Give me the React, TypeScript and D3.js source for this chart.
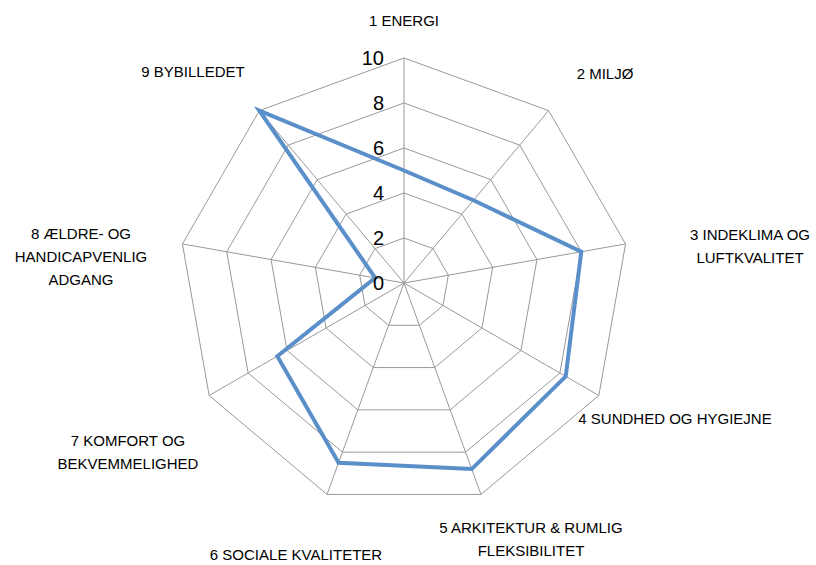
import React from 'react';
import * as d3 from 'd3';

// categories (one text line per array entry)
const categories: string[][] = [
  ['1 ENERGI'],
  ['2 MILJØ'],
  ['3 INDEKLIMA OG', 'LUFTKVALITET'],
  ['4 SUNDHED OG HYGIEJNE'],
  ['5 ARKITEKTUR & RUMLIG', 'FLEKSIBILITET'],
  ['6 SOCIALE KVALITETER'],
  ['7 KOMFORT OG', 'BEKVEMMELIGHED'],
  ['8 ÆLDRE- OG', 'HANDICAPVENLIG', 'ADGANG'],
  ['9 BYBILLEDET'],
];

const values: number[] = [5, 4.8, 8, 8.3, 8.8, 8.5, 6.5, 1.3, 10];

const ticks: number[] = [0, 2, 4, 6, 8, 10];

// first-line centres of the labels relative to the chart centre (layout only)
const labelOffsets: [number, number][] = [
  [0, -263],
  [201, -210],
  [346, -49],
  [271, 135],
  [127, 244],
  [-108, 271],
  [-276, 157],
  [-323, -50],
  [-211, -212],
];

const W = 816;
const H = 565;
const cx = 404;
const cy = 283;
const R = 225;
const LINE_H = 23;
const font = "'Liberation Sans', Arial, sans-serif";

export default function App() {
  const r = d3.scaleLinear().domain([0, 10]).range([0, R]);
  const angle = d3
    .scaleLinear()
    .domain([0, categories.length])
    .range([0, 2 * Math.PI]);

  const radial = d3
    .lineRadial<number>()
    .angle((_, i) => angle(i))
    .radius((d) => r(d))
    .curve(d3.curveLinearClosed);

  const gridRings = ticks.filter((t) => t > 0);

  return (
    <>
      <style>{`body{margin:0}`}</style>
      <svg width={W} height={H} style={{ display: 'block', background: '#fff' }}>
        <g transform={`translate(${cx},${cy})`}>
          {gridRings.map((t) => (
            <path
              key={t}
              d={radial(categories.map(() => t)) || ''}
              fill="none"
              stroke="#999"
              strokeWidth={1}
            />
          ))}
          {categories.map((_, i) => {
            const a = angle(i);
            return (
              <line
                key={i}
                x1={0}
                y1={0}
                x2={r(10) * Math.sin(a)}
                y2={-r(10) * Math.cos(a)}
                stroke="#999"
                strokeWidth={1}
              />
            );
          })}
          <path
            d={radial(values) || ''}
            fill="none"
            stroke="#5B8FCA"
            strokeWidth={4}
            strokeLinejoin="miter"
          />
          {ticks.map((t) => (
            <text
              key={t}
              x={-20}
              y={-r(t)}
              textAnchor="end"
              dominantBaseline="central"
              fontFamily={font}
              fontSize={20}
              fill="#000"
            >
              {t}
            </text>
          ))}
          {categories.map((lines, i) => {
            const [dx, dy] = labelOffsets[i];
            return (
              <text
                key={i}
                textAnchor="middle"
                dominantBaseline="central"
                fontFamily={font}
                fontSize={15}
                fill="#000"
              >
                {lines.map((ln, j) => (
                  <tspan key={j} x={dx} y={dy + j * LINE_H}>
                    {ln}
                  </tspan>
                ))}
              </text>
            );
          })}
        </g>
      </svg>
    </>
  );
}
